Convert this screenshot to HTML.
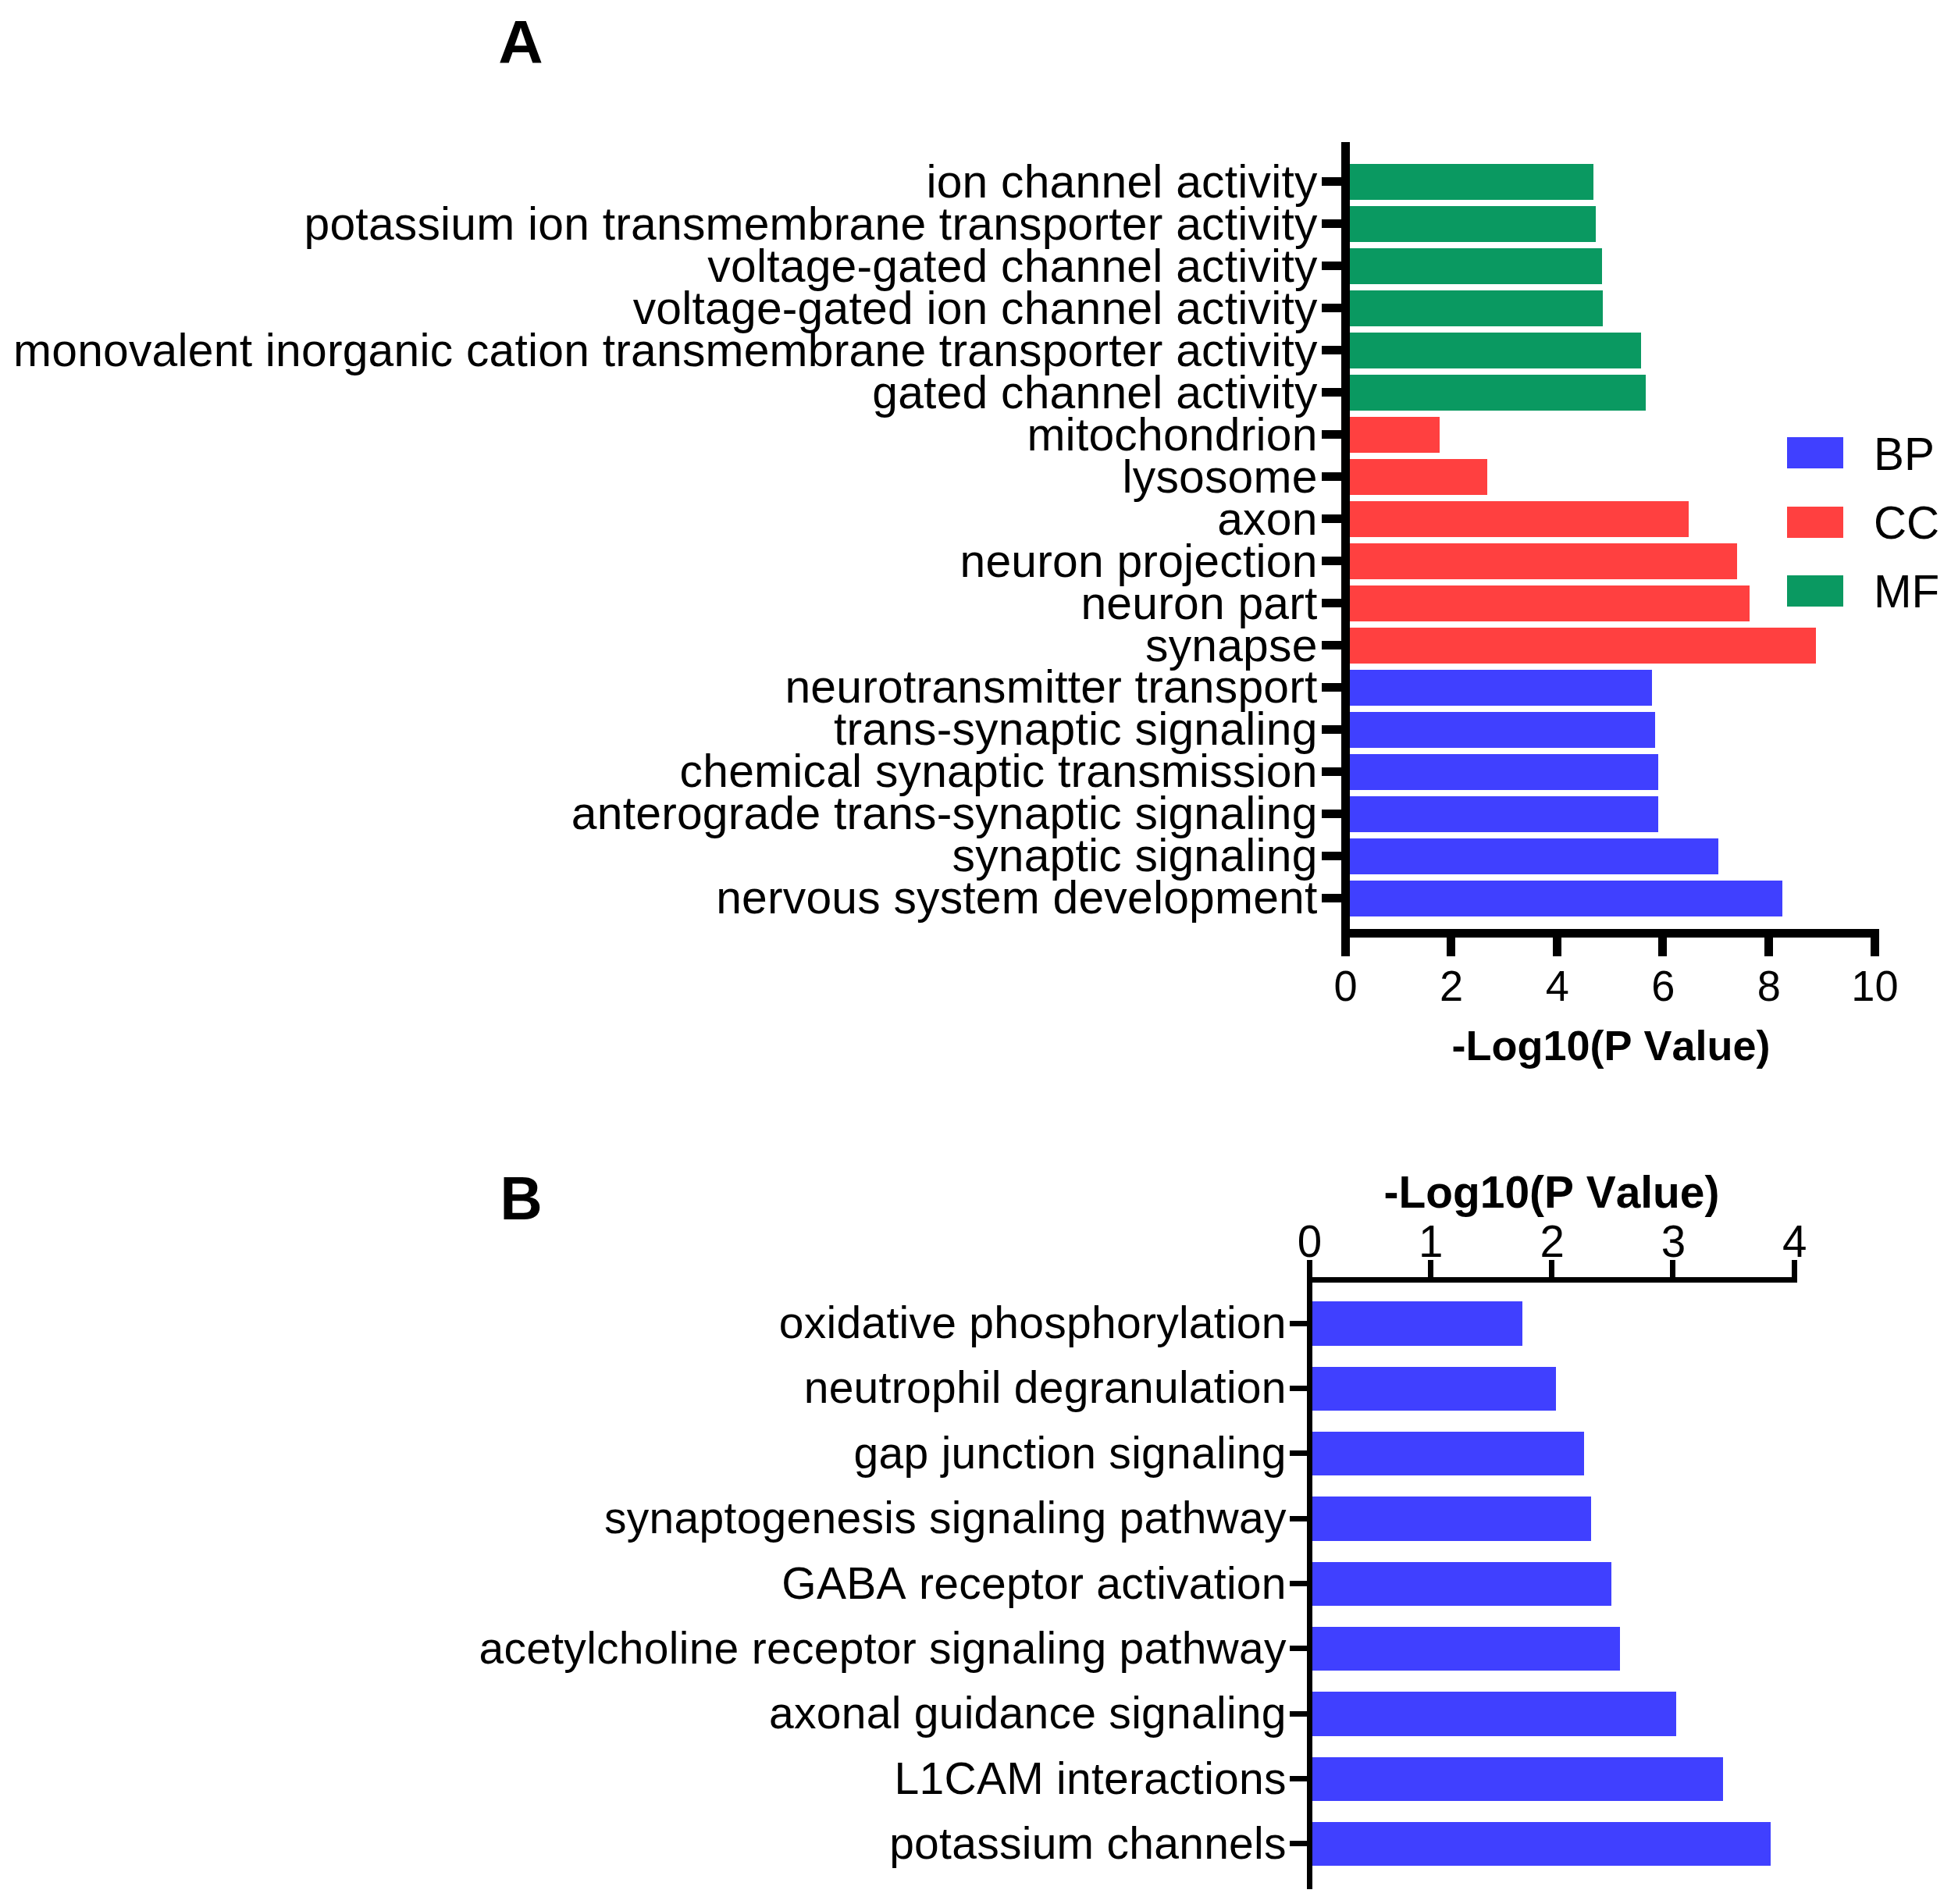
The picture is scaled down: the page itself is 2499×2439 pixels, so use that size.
<!DOCTYPE html>
<html lang="en"><head><meta charset="utf-8"><title>GO and pathway enrichment</title>
<style>
html,body{margin:0;padding:0;background:#fff;}
body{width:2499px;height:2439px;overflow:hidden;}
svg{display:block;}
text{font-family:"Liberation Sans", Arial, sans-serif;fill:#000;font-kerning:none;}
.bold{font-weight:bold;}
.e{text-anchor:end;}
.m{text-anchor:middle;}
</style></head><body>
<svg width="2499" height="2439" viewBox="0 0 2499 2439">
<rect x="0" y="0" width="2499" height="2439" fill="#fff"/>
<text class="bold" transform="translate(638.2,81) scale(1.06,1.04)" font-size="75">A</text>
<text class="bold" transform="translate(640.5,1562) scale(1.0,1.04)" font-size="75">B</text>
<g shape-rendering="crispEdges">
<rect x="1729" y="210" width="312" height="46" fill="#0A9961"/>
<rect x="1693" y="227" width="26" height="11" fill="#000"/>
<rect x="1729" y="264" width="315" height="46" fill="#0A9961"/>
<rect x="1693" y="281" width="26" height="11" fill="#000"/>
<rect x="1729" y="318" width="323" height="46" fill="#0A9961"/>
<rect x="1693" y="335" width="26" height="11" fill="#000"/>
<rect x="1729" y="372" width="324" height="46" fill="#0A9961"/>
<rect x="1693" y="389" width="26" height="11" fill="#000"/>
<rect x="1729" y="426" width="373" height="46" fill="#0A9961"/>
<rect x="1693" y="443" width="26" height="11" fill="#000"/>
<rect x="1729" y="480" width="379" height="46" fill="#0A9961"/>
<rect x="1693" y="497" width="26" height="11" fill="#000"/>
<rect x="1729" y="534" width="115" height="46" fill="#FF4040"/>
<rect x="1693" y="551" width="26" height="11" fill="#000"/>
<rect x="1729" y="588" width="176" height="46" fill="#FF4040"/>
<rect x="1693" y="605" width="26" height="11" fill="#000"/>
<rect x="1729" y="642" width="434" height="46" fill="#FF4040"/>
<rect x="1693" y="659" width="26" height="11" fill="#000"/>
<rect x="1729" y="696" width="496" height="46" fill="#FF4040"/>
<rect x="1693" y="713" width="26" height="11" fill="#000"/>
<rect x="1729" y="750" width="512" height="46" fill="#FF4040"/>
<rect x="1693" y="767" width="26" height="11" fill="#000"/>
<rect x="1729" y="804" width="597" height="46" fill="#FF4040"/>
<rect x="1693" y="821" width="26" height="11" fill="#000"/>
<rect x="1729" y="858" width="387" height="46" fill="#4040FF"/>
<rect x="1693" y="875" width="26" height="11" fill="#000"/>
<rect x="1729" y="912" width="391" height="46" fill="#4040FF"/>
<rect x="1693" y="929" width="26" height="11" fill="#000"/>
<rect x="1729" y="966" width="395" height="46" fill="#4040FF"/>
<rect x="1693" y="983" width="26" height="11" fill="#000"/>
<rect x="1729" y="1020" width="395" height="46" fill="#4040FF"/>
<rect x="1693" y="1037" width="26" height="11" fill="#000"/>
<rect x="1729" y="1074" width="472" height="46" fill="#4040FF"/>
<rect x="1693" y="1091" width="26" height="11" fill="#000"/>
<rect x="1729" y="1128" width="554" height="46" fill="#4040FF"/>
<rect x="1693" y="1145" width="26" height="11" fill="#000"/>
<rect x="1718" y="182" width="11" height="1043" fill="#000"/>
<rect x="1718" y="1190" width="689" height="11" fill="#000"/>
<rect x="1853" y="1190" width="11" height="35" fill="#000"/>
<rect x="1989" y="1190" width="11" height="35" fill="#000"/>
<rect x="2124" y="1190" width="11" height="35" fill="#000"/>
<rect x="2260" y="1190" width="11" height="35" fill="#000"/>
<rect x="2396" y="1190" width="11" height="35" fill="#000"/>
<rect x="2289" y="560" width="72" height="40" fill="#4040FF"/>
<rect x="2289" y="649" width="72" height="40" fill="#FF4040"/>
<rect x="2289" y="737" width="72" height="40" fill="#0A9961"/>
</g>
<text class="e" x="1687.6" y="253.10" font-size="58.8" letter-spacing="0.22">ion channel activity</text>
<text class="e" x="1687.6" y="307.05" font-size="58.8" letter-spacing="0.22">potassium ion transmembrane transporter activity</text>
<text class="e" x="1687.6" y="360.99" font-size="58.8" letter-spacing="0.22">voltage-gated channel activity</text>
<text class="e" x="1687.6" y="414.94" font-size="58.8" letter-spacing="0.22">voltage-gated ion channel activity</text>
<text class="e" x="1687.6" y="468.89" font-size="58.8" letter-spacing="0.22">monovalent inorganic cation transmembrane transporter activity</text>
<text class="e" x="1687.6" y="522.84" font-size="58.8" letter-spacing="0.22">gated channel activity</text>
<text class="e" x="1687.6" y="576.78" font-size="58.8" letter-spacing="0.22">mitochondrion</text>
<text class="e" x="1687.6" y="630.73" font-size="58.8" letter-spacing="0.22">lysosome</text>
<text class="e" x="1687.6" y="684.68" font-size="58.8" letter-spacing="0.22">axon</text>
<text class="e" x="1687.6" y="738.62" font-size="58.8" letter-spacing="0.22">neuron projection</text>
<text class="e" x="1687.6" y="792.57" font-size="58.8" letter-spacing="0.22">neuron part</text>
<text class="e" x="1687.6" y="846.52" font-size="58.8" letter-spacing="0.22">synapse</text>
<text class="e" x="1687.6" y="900.46" font-size="58.8" letter-spacing="0.22">neurotransmitter transport</text>
<text class="e" x="1687.6" y="954.41" font-size="58.8" letter-spacing="0.22">trans-synaptic signaling</text>
<text class="e" x="1687.6" y="1008.36" font-size="58.8" letter-spacing="0.22">chemical synaptic transmission</text>
<text class="e" x="1687.6" y="1062.30" font-size="58.8" letter-spacing="0.22">anterograde trans-synaptic signaling</text>
<text class="e" x="1687.6" y="1116.25" font-size="58.8" letter-spacing="0.22">synaptic signaling</text>
<text class="e" x="1687.6" y="1170.20" font-size="58.8" letter-spacing="0.22">nervous system development</text>
<text class="m" transform="translate(1723.5,1282) scale(1,1.04)" font-size="54.17">0</text>
<text class="m" transform="translate(1859.1,1282) scale(1,1.04)" font-size="54.17">2</text>
<text class="m" transform="translate(1994.7,1282) scale(1,1.04)" font-size="54.17">4</text>
<text class="m" transform="translate(2130.3,1282) scale(1,1.04)" font-size="54.17">6</text>
<text class="m" transform="translate(2265.9,1282) scale(1,1.04)" font-size="54.17">8</text>
<text class="m" transform="translate(2401.5,1282) scale(1,1.04)" font-size="54.17">10</text>
<text class="m bold" x="2063.5" y="1358" font-size="54.0">-Log10(P Value)</text>
<text transform="translate(2400,601.5) scale(1,1.025)" font-size="58.33">BP</text>
<text transform="translate(2400,690) scale(1,1.025)" font-size="58.33">CC</text>
<text transform="translate(2400,778) scale(1,1.025)" font-size="58.33">MF</text>
<g shape-rendering="crispEdges">
<rect x="1681" y="1667" width="269" height="57" fill="#4040FF"/>
<rect x="1652" y="1692" width="23" height="7" fill="#000"/>
<rect x="1681" y="1751" width="312" height="56" fill="#4040FF"/>
<rect x="1652" y="1775" width="23" height="7" fill="#000"/>
<rect x="1681" y="1834" width="348" height="56" fill="#4040FF"/>
<rect x="1652" y="1858" width="23" height="7" fill="#000"/>
<rect x="1681" y="1917" width="357" height="57" fill="#4040FF"/>
<rect x="1652" y="1942" width="23" height="7" fill="#000"/>
<rect x="1681" y="2001" width="383" height="56" fill="#4040FF"/>
<rect x="1652" y="2025" width="23" height="7" fill="#000"/>
<rect x="1681" y="2084" width="394" height="56" fill="#4040FF"/>
<rect x="1652" y="2108" width="23" height="7" fill="#000"/>
<rect x="1681" y="2167" width="466" height="57" fill="#4040FF"/>
<rect x="1652" y="2192" width="23" height="7" fill="#000"/>
<rect x="1681" y="2251" width="526" height="56" fill="#4040FF"/>
<rect x="1652" y="2275" width="23" height="7" fill="#000"/>
<rect x="1681" y="2334" width="587" height="56" fill="#4040FF"/>
<rect x="1652" y="2358" width="23" height="7" fill="#000"/>
<rect x="1674" y="1614" width="7" height="806" fill="#000"/>
<rect x="1674" y="1636" width="628" height="7" fill="#000"/>
<rect x="1829" y="1614" width="7" height="25" fill="#000"/>
<rect x="1984" y="1614" width="7" height="25" fill="#000"/>
<rect x="2139" y="1614" width="7" height="25" fill="#000"/>
<rect x="2295" y="1614" width="7" height="25" fill="#000"/>
</g>
<text class="e" x="1647.8" y="1714.1" font-size="57.0" letter-spacing="0.27">oxidative phosphorylation</text>
<text class="e" x="1647.8" y="1797.4" font-size="57.0" letter-spacing="0.27">neutrophil degranulation</text>
<text class="e" x="1647.8" y="1880.8" font-size="57.0" letter-spacing="0.27">gap junction signaling</text>
<text class="e" x="1647.8" y="1964.1" font-size="57.0" letter-spacing="0.27">synaptogenesis signaling pathway</text>
<text class="e" x="1647.8" y="2047.5" font-size="57.0" letter-spacing="0.27">GABA receptor activation</text>
<text class="e" x="1647.8" y="2130.8" font-size="57.0" letter-spacing="0.27">acetylcholine receptor signaling pathway</text>
<text class="e" x="1647.8" y="2214.2" font-size="57.0" letter-spacing="0.27">axonal guidance signaling</text>
<text class="e" x="1647.8" y="2297.5" font-size="57.0" letter-spacing="0.27">L1CAM interactions</text>
<text class="e" x="1647.8" y="2380.9" font-size="57.0" letter-spacing="0.27">potassium channels</text>
<text class="m" x="1677.5" y="1610" font-size="56.5">0</text>
<text class="m" x="1832.8" y="1610" font-size="56.5">1</text>
<text class="m" x="1988.1" y="1610" font-size="56.5">2</text>
<text class="m" x="2143.4" y="1610" font-size="56.5">3</text>
<text class="m" x="2298.7" y="1610" font-size="56.5">4</text>
<text class="m bold" x="1987.5" y="1547" font-size="56.9">-Log10(P Value)</text>
</svg></body></html>
